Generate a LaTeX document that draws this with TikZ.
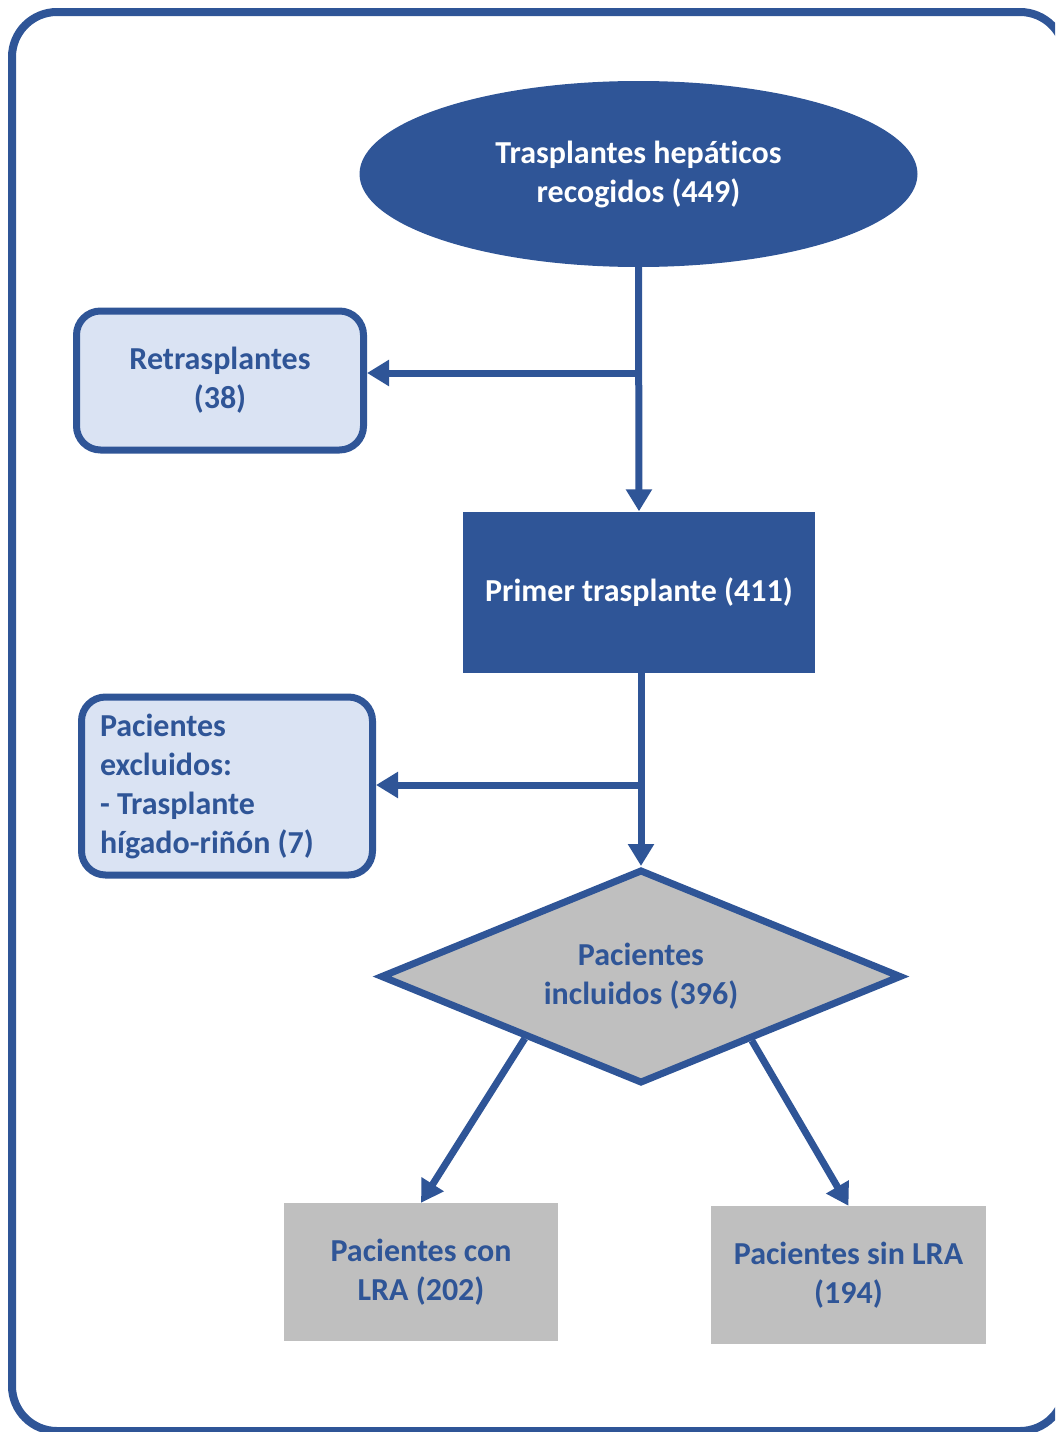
\documentclass[tikz,border=0pt]{standalone}
\usepackage{fontspec}
\setmainfont{Carlito}[Ligatures={NoCommon}]
\usetikzlibrary{shapes.geometric,arrows.meta,calc}
\definecolor{dblue}{HTML}{2F5597}
\definecolor{lblue}{HTML}{DAE3F3}
\definecolor{lgrey}{HTML}{BFBFBF}
\tikzset{
  txt/.style={font=\fontsize{32}{39}\selectfont\bfseries, align=center},
  arr/.style={draw=dblue, line width=7pt, -{Triangle[length=22pt,width=25pt]}},
  lightbox/.style={txt, draw=dblue, fill=lblue, line width=7pt, rounded corners=24pt, text=dblue, inner sep=0pt},
  greybox/.style={txt, fill=lgrey, text=dblue, inner sep=0pt},
}
\begin{document}
\begin{tikzpicture}[x=1pt,y=-1pt]
\useasboundingbox (0,0) rectangle (1055,1432);
\clip (0,0) rectangle (1055,1432);
\draw[dblue, line width=8pt, rounded corners=45pt] (12,12) rectangle (1065,1431);

\node[txt, ellipse, fill=dblue, text=white, minimum width=558pt, minimum height=186pt, inner sep=0pt] (top) at (638.5,174) {Trasplantes hepáticos\\recogidos (449)};

\node[lightbox, minimum width=287pt, minimum height=139pt] (retra) at (220,380.5) {Retrasplantes\\(38)};

\node[txt, fill=dblue, text=white, minimum width=352pt, minimum height=161pt, inner sep=0pt] (primer) at (639,592) {Primer trasplante (411)};

\node[lightbox, align=flush left, text width=254pt, inner xsep=18.5pt, minimum height=178pt] (excl) at (227,786) {Pacientes\\excluidos:\\- Trasplante\\hígado-riñón (7)};

\node[txt, diamond, shape aspect=2.43, draw=dblue, line width=7pt, fill=lgrey, text=dblue, minimum width=521pt, minimum height=214pt, inner sep=0pt] (diam) at (641,976.5) {Pacientes\\incluidos (396)};

\node[greybox, minimum width=274pt, minimum height=138pt] (lra) at (421,1272) {Pacientes con\\LRA (202)};
\node[greybox, minimum width=275pt, minimum height=138pt] (sin) at (848.5,1275) {Pacientes sin LRA\\(194)};

% connectors
\draw[arr] (top.south) -- (primer.north);
\coordinate (b1) at (637,373);
\draw[arr] (b1) -- (retra.east |- b1);

\draw[arr] (primer.south -| diam.north) -- (diam.north);
\coordinate (b2) at (642,785);
\draw[arr] (b2) -- (excl.east |- b2);

\draw[arr] ($(diam.south)!0.44!(diam.west)$) -- (lra.north);
\draw[arr] ($(diam.south)!0.42!(diam.east)$) -- (sin.north);
\end{tikzpicture}
\end{document}
